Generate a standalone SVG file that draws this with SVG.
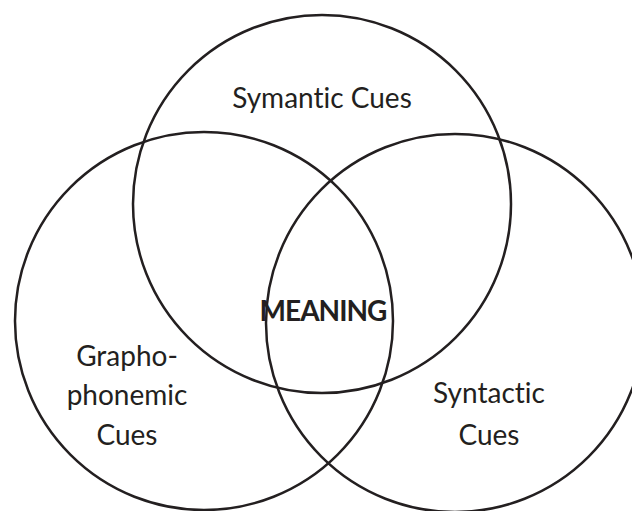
<svg xmlns="http://www.w3.org/2000/svg" width="632" height="511" viewBox="0 0 632 511">
<style>
.c{fill:none;stroke:#231f20;stroke-width:2.5}
.t{font-family:Lato,"Open Sans",sans-serif;font-size:28px;fill:#231f20;text-anchor:middle;font-variant-ligatures:none}
.b{font-weight:bold}
</style>
<rect width="632" height="511" fill="#fff"/>
<g id="semantic">
<circle class="c" cx="322" cy="204" r="189"/>
<text class="t" x="322" y="108">Symantic Cues</text>
</g>
<g id="graphophonemic">
<circle class="c" cx="204" cy="321" r="189"/>
<text class="t" x="127" y="366">Grapho-</text>
<text class="t" x="127" y="405">phonemic</text>
<text class="t" x="127" y="445">Cues</text>
</g>
<g id="syntactic">
<circle class="c" cx="455" cy="323" r="189"/>
<text class="t" x="489" y="403">Syntactic</text>
<text class="t" x="489" y="445">Cues</text>
</g>
<g id="meaning">
<text class="t b" x="323" y="321" letter-spacing="-1">MEANING</text>
</g>
<g id="connectors"></g>
</svg>
